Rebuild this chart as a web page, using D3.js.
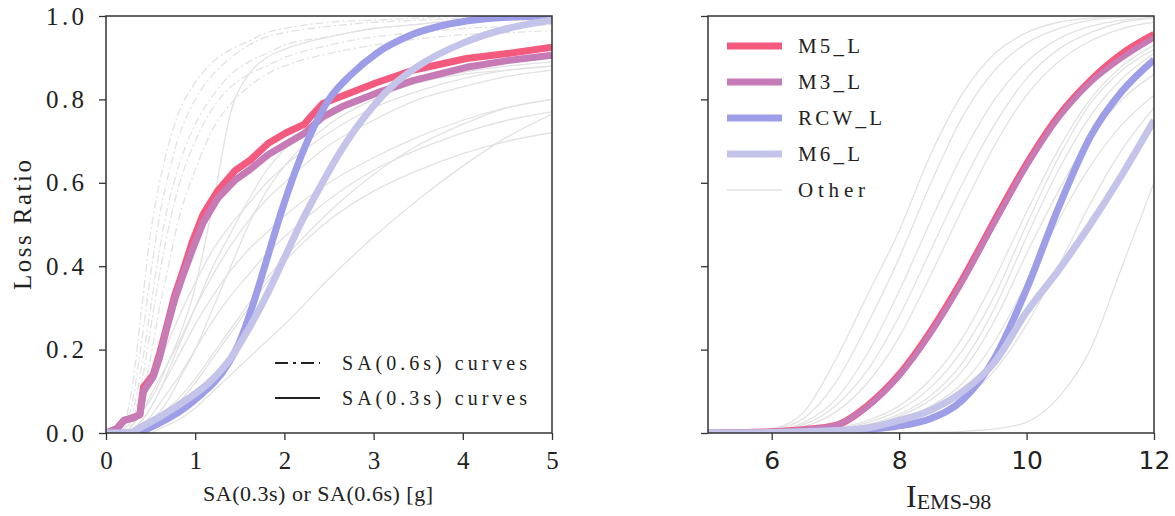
<!DOCTYPE html>
<html><head><meta charset="utf-8">
<script src="https://cdn.jsdelivr.net/npm/d3@7"></script>
<style>body{margin:0;background:#fff}svg{display:block}</style>
</head><body><svg id="c" width="1175" height="516"></svg>
<script>
// ---------- DATA ----------
// Left panel (SA-based) grid for gray curves
const xLeft = [0,0.1,0.2,0.3,0.4,0.5,0.6,0.7,0.8,1.0,1.2,1.4,1.6,1.8,2.0,2.5,3.0,3.5,4.0,4.5,5.0];
// dash-dot gray curves: SA(0.6s)
const leftDashCurves = [
  [0,0,0.02,0.12,0.3,0.48,0.6,0.69,0.76,0.84,0.89,0.92,0.94,0.96,0.97,0.985,0.99,0.995,1,1,1],
  [0,0,0.01,0.08,0.22,0.38,0.52,0.62,0.7,0.8,0.86,0.9,0.93,0.95,0.96,0.975,0.985,0.99,0.995,1,1],
  [0,0,0,0.05,0.16,0.3,0.44,0.55,0.63,0.74,0.81,0.86,0.89,0.91,0.93,0.95,0.97,0.98,0.99,0.99,0.99],
  [0,0,0,0.03,0.12,0.25,0.38,0.49,0.58,0.7,0.78,0.83,0.86,0.88,0.9,0.93,0.95,0.96,0.97,0.975,0.98],
  [0,0,0,0.02,0.08,0.18,0.3,0.4,0.5,0.63,0.73,0.79,0.83,0.86,0.88,0.91,0.93,0.945,0.955,0.96,0.965]
];
// solid gray curves: SA(0.3s)
const leftSolidCurves = [
  [0,0,0,0.02,0.05,0.08,0.12,0.17,0.22,0.35,0.55,0.77,0.86,0.9,0.92,0.95,0.97,0.98,0.99,0.99,0.995],
  [0,0,0.01,0.03,0.07,0.12,0.17,0.22,0.27,0.36,0.44,0.5,0.55,0.6,0.64,0.72,0.78,0.82,0.85,0.87,0.88],
  [0,0,0,0.02,0.05,0.09,0.13,0.17,0.21,0.3,0.38,0.45,0.51,0.56,0.6,0.69,0.75,0.8,0.83,0.855,0.87],
  [0,0,0,0.01,0.03,0.06,0.1,0.14,0.18,0.26,0.33,0.39,0.44,0.48,0.52,0.6,0.66,0.71,0.75,0.78,0.8],
  [0,0,0,0.01,0.02,0.04,0.07,0.1,0.13,0.2,0.27,0.33,0.38,0.43,0.47,0.56,0.63,0.68,0.72,0.75,0.77],
  [0,0,0,0,0.01,0.02,0.04,0.06,0.08,0.13,0.19,0.25,0.31,0.37,0.42,0.53,0.62,0.69,0.74,0.78,0.8],
  [0,0,0,0,0,0,0.01,0.02,0.03,0.06,0.1,0.14,0.18,0.22,0.26,0.37,0.47,0.56,0.64,0.71,0.765],
  [0,0,0,0,0.01,0.03,0.05,0.08,0.12,0.2,0.3,0.4,0.5,0.58,0.64,0.74,0.8,0.84,0.86,0.87,0.88],
  [0,0,0,0.01,0.03,0.06,0.1,0.15,0.2,0.3,0.4,0.48,0.56,0.63,0.68,0.76,0.81,0.84,0.865,0.88,0.89],
  [0,0,0,0,0.01,0.02,0.03,0.05,0.07,0.12,0.18,0.24,0.3,0.36,0.41,0.51,0.58,0.63,0.67,0.7,0.72]
];
// highlighted left curves
const m5LeftX = [0,0.12,0.2,0.3,0.38,0.42,0.53,0.6,0.68,0.77,0.85,0.97,1.09,1.25,1.45,1.62,1.82,2.02,2.22,2.3,2.43,2.67,3.03,3.44,4.04,4.5,5];
const m5LeftY = [0,0.01,0.03,0.036,0.044,0.11,0.14,0.19,0.255,0.33,0.38,0.46,0.525,0.58,0.63,0.655,0.695,0.72,0.74,0.76,0.79,0.81,0.84,0.87,0.898,0.91,0.925];
const m3LeftX = [0,0.12,0.2,0.3,0.38,0.42,0.53,0.6,0.68,0.77,0.85,0.97,1.09,1.25,1.45,1.62,1.82,2.02,2.22,2.43,2.67,3.03,3.44,4.04,4.5,5];
const m3LeftY = [0,0.01,0.03,0.036,0.044,0.1,0.135,0.18,0.25,0.32,0.37,0.44,0.505,0.562,0.607,0.633,0.668,0.693,0.718,0.758,0.785,0.815,0.845,0.877,0.893,0.906];
const rcwLeftX = [0,0.3,0.6,1.0,1.38,1.5,1.62,1.78,1.98,2.18,2.3,2.5,2.75,3.03,3.44,4.04,4.5,5];
const rcwLeftY = [0,0,0.024,0.08,0.17,0.22,0.29,0.4,0.54,0.66,0.72,0.8,0.86,0.91,0.956,0.988,0.997,1.0];
const m6LeftX = [0,0.25,0.4,0.8,1.2,1.4,1.6,1.8,2.0,2.2,2.4,2.6,2.8,3.0,3.25,3.5,4.0,4.5,5];
const m6LeftY = [0,0,0.015,0.065,0.13,0.18,0.25,0.33,0.42,0.51,0.59,0.665,0.73,0.785,0.84,0.88,0.935,0.97,0.99];

// Right panel (EMS-98 intensity)
const xRight = [5,5.5,6,6.5,7,7.5,8,8.5,9,9.5,10,10.5,11,11.5,12];
const m5Right  = [0,0.001,0.003,0.008,0.018,0.065,0.14,0.245,0.37,0.51,0.645,0.76,0.845,0.91,0.956];
const m3Right  = [0,0.001,0.003,0.008,0.018,0.063,0.137,0.24,0.365,0.505,0.64,0.755,0.84,0.9,0.948];
const rcwRight = [0,0,0,0.001,0.003,0.008,0.017,0.035,0.08,0.18,0.345,0.54,0.71,0.82,0.895];
const m6Right  = [0,0,0.001,0.003,0.006,0.012,0.03,0.055,0.1,0.17,0.29,0.39,0.5,0.62,0.75];
const rightOtherCurves = [
  [0,0.002,0.01,0.05,0.175,0.33,0.485,0.67,0.815,0.91,0.96,0.985,0.995,1,1],
  [0,0.002,0.008,0.035,0.12,0.26,0.42,0.6,0.76,0.87,0.935,0.97,0.99,0.997,1],
  [0,0.001,0.006,0.025,0.08,0.19,0.34,0.51,0.67,0.8,0.89,0.945,0.975,0.99,0.997],
  [0,0.001,0.005,0.02,0.065,0.15,0.28,0.44,0.6,0.74,0.85,0.92,0.96,0.985,0.995],
  [0,0.001,0.004,0.015,0.05,0.12,0.23,0.38,0.54,0.69,0.81,0.89,0.94,0.97,0.985],
  [0,0,0.001,0.004,0.012,0.03,0.065,0.13,0.23,0.37,0.53,0.68,0.8,0.88,0.93],
  [0,0,0.001,0.003,0.01,0.025,0.055,0.11,0.2,0.33,0.5,0.66,0.79,0.87,0.92],
  [0,0,0,0.002,0.007,0.02,0.045,0.09,0.17,0.3,0.47,0.63,0.76,0.85,0.91],
  [0,0,0,0.002,0.006,0.016,0.04,0.08,0.15,0.27,0.43,0.58,0.71,0.8,0.86],
  [0,0,0,0.001,0.004,0.012,0.03,0.065,0.12,0.22,0.36,0.51,0.64,0.74,0.81],
  [0,0,0,0.001,0.003,0.008,0.018,0.04,0.08,0.15,0.26,0.4,0.55,0.68,0.78],
  [0,0,0,0,0,0,0.001,0.002,0.004,0.01,0.026,0.085,0.2,0.4,0.6]
];

const seriesNames = ["M5_L","M3_L","RCW_L","M6_L","Other"];
const seriesColors = ["#f45a7e","#c67bb6","#9d9de8","#c4c4ea","#e2e2e2"];
const yTicks = [0,0.2,0.4,0.6,0.8,1.0];
const xTicksLeft = [0,1,2,3,4,5];
const xTicksRight = [6,8,10,12];
const leftLegendLabels = ["SA(0.6s) curves","SA(0.3s) curves"];

// ---------- DRAW ----------
const svg = d3.select("#c");
const serif = "'Liberation Serif','Times New Roman',serif";
const sans = "'DejaVu Sans',sans-serif";
const axisCol = "#333";
const yTop = 16, yBot = 433;
const y = d3.scaleLinear().domain([0,1]).range([yBot, yTop]);
const xL = d3.scaleLinear().domain([0,5]).range([106,552]);
const xR = d3.scaleLinear().domain([5,12]).range([708,1154]);
const HW = 7;

const defs = svg.append("defs");
[["clipL",xL],["clipR",xR]].forEach(([id,sc])=>{
  defs.append("clipPath").attr("id",id).append("rect")
    .attr("x",sc.range()[0]).attr("y",yTop).attr("width",sc.range()[1]-sc.range()[0]).attr("height",yBot-yTop);
});

function drawLine(g, sx, xs, ys, color, width, dash, curve){
  const line = d3.line().x((d,i)=>sx(xs[i])).y(d=>y(d)).curve(curve||d3.curveMonotoneX);
  const p = g.append("path").attr("d", line(ys)).attr("fill","none")
    .attr("stroke",color).attr("stroke-width",width)
    .attr("stroke-linejoin","round").attr("stroke-linecap","butt");
  if(dash) p.attr("stroke-dasharray",dash);
  return p;
}

// Left panel
const gL = svg.append("g").attr("clip-path","url(#clipL)");
leftSolidCurves.forEach(c=>drawLine(gL,xL,xLeft,c,seriesColors[4],1.3));
leftDashCurves.forEach(c=>drawLine(gL,xL,xLeft,c,seriesColors[4],1.3,"8,3,2,3"));
drawLine(gL,xL,m5LeftX,m5LeftY,seriesColors[0],HW,null,d3.curveLinear);
drawLine(gL,xL,m3LeftX,m3LeftY,seriesColors[1],HW,null,d3.curveLinear);
drawLine(gL,xL,rcwLeftX,rcwLeftY,seriesColors[2],HW,null,d3.curveMonotoneX);
drawLine(gL,xL,m6LeftX,m6LeftY,seriesColors[3],HW,null,d3.curveMonotoneX);

// Right panel
const gR = svg.append("g").attr("clip-path","url(#clipR)");
rightOtherCurves.forEach(c=>drawLine(gR,xR,xRight,c,seriesColors[4],1.3));
drawLine(gR,xR,xRight,m5Right,seriesColors[0],HW);
drawLine(gR,xR,xRight,m3Right,seriesColors[1],HW-1.5);
drawLine(gR,xR,xRight,rcwRight,seriesColors[2],HW);
drawLine(gR,xR,xRight,m6Right,seriesColors[3],HW);

// Axes
function axes(sx, xticks, xfmt, xfont, yLabels){
  const ax = d3.axisBottom(sx).tickValues(xticks).tickSize(7).tickPadding(11).tickFormat(xfmt);
  const gx = svg.append("g").attr("transform",`translate(0,${yBot})`).call(ax);
  gx.select(".domain").remove();
  gx.selectAll(".tick line").attr("stroke",axisCol).attr("stroke-width",1.3);
  gx.selectAll(".tick text").attr("fill","#222").style("font-family",xfont).style("font-size","25px");
  const ay = d3.axisLeft(y).tickValues(yTicks).tickSize(7).tickPadding(15)
    .tickFormat(yLabels ? d3.format(".1f") : "");
  const gy = svg.append("g").attr("transform",`translate(${sx.range()[0]},0)`).call(ay);
  gy.select(".domain").remove();
  gy.selectAll(".tick line").attr("stroke",axisCol).attr("stroke-width",1.3);
  gy.selectAll(".tick text").attr("fill","#222").style("font-family",serif).style("font-size","25px")
    .attr("textLength",38).attr("lengthAdjust","spacing");
  svg.append("rect").attr("x",sx.range()[0]).attr("y",yTop)
    .attr("width",sx.range()[1]-sx.range()[0]).attr("height",yBot-yTop)
    .attr("fill","none").attr("stroke",axisCol).attr("stroke-width",1.5);
}
axes(xL, xTicksLeft, d3.format("d"), serif, true);
axes(xR, xTicksRight, d3.format("d"), sans, false);

// Axis labels
svg.append("text").attr("x",318).attr("y",501).attr("text-anchor","middle")
  .style("font-family",serif).style("font-size","22px").attr("fill","#222")
  .attr("textLength",230).attr("lengthAdjust","spacing")
  .text("SA(0.3s) or SA(0.6s) [g]");
svg.append("text").attr("transform","translate(31,225) rotate(-90)").attr("text-anchor","middle")
  .style("font-family",serif).style("font-size","25px").attr("fill","#222")
  .attr("textLength",130).attr("lengthAdjust","spacing").text("Loss Ratio");
const xlab = svg.append("text").attr("x",906).attr("y",507)
  .style("font-family",serif).attr("fill","#222");
xlab.append("tspan").style("font-size","32px").text("I");
xlab.append("tspan").style("font-size","22px").attr("dy",2).text("EMS-98");

// Left legend (line styles)
const legL = svg.append("g");
const lDash = ["13,5,3,5", null];
leftLegendLabels.forEach((t,i)=>{
  const yy = 363 + i*35;
  const l = legL.append("line").attr("x1",275).attr("x2",320).attr("y1",yy).attr("y2",yy)
    .attr("stroke","#222").attr("stroke-width",2);
  if(lDash[i]) l.attr("stroke-dasharray",lDash[i]);
  legL.append("text").attr("x",342).attr("y",yy+7).style("font-family",serif).style("font-size","20px")
    .attr("fill","#222").attr("textLength",185).attr("lengthAdjust","spacing").text(t);
});

// Right legend (series)
const legR = svg.append("g");
const legLens = [62,62,84,62,67];
seriesNames.forEach((t,i)=>{
  const yy = 46 + i*36;
  legR.append("line").attr("x1",727).attr("x2",782).attr("y1",yy).attr("y2",yy)
    .attr("stroke",seriesColors[i]).attr("stroke-width", i<4 ? HW : 1.5);
  legR.append("text").attr("x",798).attr("y",yy+7).style("font-family",serif).style("font-size","21px")
    .attr("fill","#222").attr("textLength",legLens[i]).attr("lengthAdjust","spacing").text(t);
});
</script></body></html>
